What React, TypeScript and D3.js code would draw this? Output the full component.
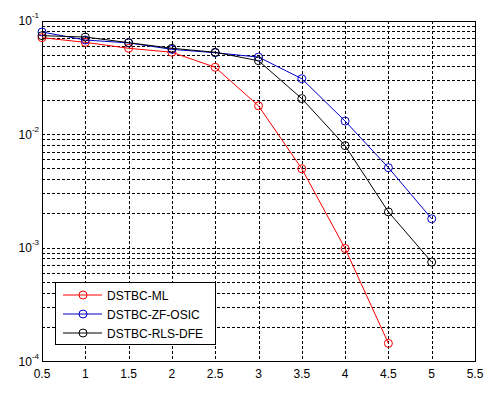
import { useEffect, useRef } from "react";
import * as d3 from "d3";

// ── Data ──────────────────────────────────────────────────────────────
const snr = [0.5, 1, 1.5, 2, 2.5, 3, 3.5, 4, 4.5, 5];
const berML = [0.0706, 0.0642, 0.0569, 0.0525, 0.0387, 0.0177, 0.00494, 0.00098, 0.000143];
const berZF = [0.0792, 0.0673, 0.0635, 0.0557, 0.052, 0.0476, 0.0307, 0.013, 0.00505, 0.00179];
const berRLS = [0.0735, 0.0715, 0.0638, 0.0569, 0.0525, 0.0442, 0.0205, 0.00789, 0.00206, 0.000744];
const seriesNames = ["DSTBC-ML", "DSTBC-ZF-OSIC", "DSTBC-RLS-DFE"];
const seriesColors = ["#ff0000", "#0000c8", "#000000"];
const xTicks = [0.5, 1, 1.5, 2, 2.5, 3, 3.5, 4, 4.5, 5, 5.5];
const yDecades = [-4, -3, -2, -1];

const W = 498;
const H = 394;
const M = { top: 20.5, right: 23, bottom: 33, left: 42 };

export default function App() {
  const ref = useRef<SVGSVGElement>(null);

  useEffect(() => {
    if (!ref.current) return;
    const svg = d3.select(ref.current);
    svg.selectAll("*").remove();

    const x = d3.scaleLinear().domain([0.5, 5.5]).range([M.left, W - M.right]);
    const y = d3.scaleLog().domain([1e-4, 1e-1]).range([H - M.bottom, M.top]);

    svg.append("rect").attr("width", W).attr("height", H).attr("fill", "#fff");

    const grid = svg.append("g")
      .attr("stroke", "#000")
      .attr("stroke-width", 1)
      .attr("stroke-dasharray", "3 2")
      .attr("shape-rendering", "crispEdges");

    // vertical grid
    xTicks.slice(1, -1).forEach((t) => {
      grid.append("line")
        .attr("x1", Math.round(x(t)) + 0.5).attr("x2", Math.round(x(t)) + 0.5)
        .attr("y1", M.top).attr("y2", H - M.bottom);
    });

    // horizontal log grid (major + minor)
    for (let e = -4; e < -1; e++) {
      for (let k = 1; k <= 9; k++) {
        const v = k * Math.pow(10, e);
        if (v <= 1e-4 || v >= 1e-1) continue;
        grid.append("line")
          .attr("x1", M.left).attr("x2", W - M.right)
          .attr("y1", Math.round(y(v)) + 0.5).attr("y2", Math.round(y(v)) + 0.5);
      }
    }

    // axes box
    svg.append("rect")
      .attr("x", M.left + 0.5).attr("y", M.top + 0.5)
      .attr("width", W - M.left - M.right).attr("height", H - M.top - M.bottom)
      .attr("fill", "none").attr("stroke", "#000").attr("shape-rendering", "crispEdges");

    // x tick labels
    svg.append("g")
      .selectAll("text")
      .data(xTicks)
      .join("text")
      .attr("x", (d) => x(d))
      .attr("y", H - M.bottom + 17)
      .attr("text-anchor", "middle")
      .attr("font-family", "Liberation Sans, Arial, sans-serif")
      .attr("font-size", 12)
      .text((d) => String(d));

    // y tick labels 10^e
    yDecades.forEach((e) => {
      const t = svg.append("text")
        .attr("x", 39)
        .attr("y", y(Math.pow(10, e)) + 4.5)
        .attr("text-anchor", "end")
        .attr("font-family", "Liberation Sans, Arial, sans-serif")
        .attr("font-size", 12);
      t.append("tspan").text("10");
      t.append("tspan").attr("dy", -7).attr("font-size", 8).text(String(e));
    });

    // series
    const datasets = [berML, berZF, berRLS];
    const line = d3.line<number>()
      .x((_, i) => x(snr[i]))
      .y((d) => y(d));

    datasets.forEach((vals, si) => {
      const g = svg.append("g");
      g.append("path")
        .attr("d", line(vals))
        .attr("fill", "none")
        .attr("stroke", seriesColors[si])
        .attr("stroke-width", 1);
      g.selectAll("circle")
        .data(vals)
        .join("circle")
        .attr("cx", (_, i) => x(snr[i]))
        .attr("cy", (d) => y(d))
        .attr("r", 4)
        .attr("fill", "none")
        .attr("stroke", seriesColors[si])
        .attr("stroke-width", 1);
    });

    // legend
    const lg = svg.append("g");
    lg.append("rect")
      .attr("x", 55.5).attr("y", 282.5)
      .attr("width", 160).attr("height", 62)
      .attr("fill", "#fff").attr("stroke", "#000").attr("shape-rendering", "crispEdges");
    seriesNames.forEach((name, i) => {
      const cy = 295 + i * 19;
      lg.append("line")
        .attr("x1", 63).attr("x2", 102).attr("y1", cy).attr("y2", cy)
        .attr("stroke", seriesColors[i]);
      lg.append("circle")
        .attr("cx", 83).attr("cy", cy).attr("r", 4)
        .attr("fill", "none").attr("stroke", seriesColors[i]);
      lg.append("text")
        .attr("x", 107).attr("y", cy + 4.5)
        .attr("font-family", "Liberation Sans, Arial, sans-serif")
        .attr("font-size", 12)
        .text(name);
    });
  }, []);

  return (
    <div style={{ position: "fixed", left: 0, top: 0, width: W, height: H }}>
      <svg ref={ref} width={W} height={H} />
    </div>
  );
}
